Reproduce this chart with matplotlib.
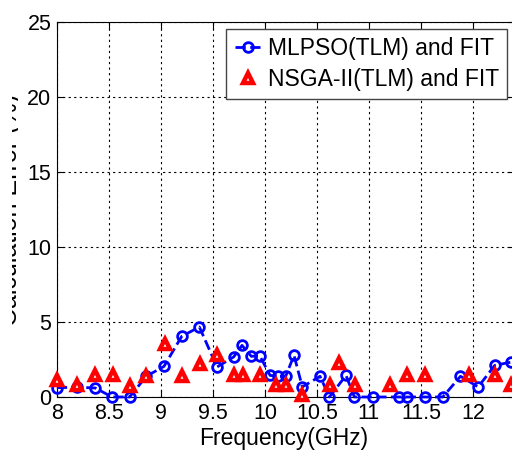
import matplotlib
matplotlib.use('Agg')
import matplotlib.pyplot as plt
from matplotlib.transforms import Bbox

plt.rcParams['font.family'] = ['Liberation Sans', 'DejaVu Sans']

# MLPSO(TLM) and FIT
f_mlpso = [8.0, 8.19, 8.37, 8.53, 8.70, 8.86, 9.03, 9.2, 9.37, 9.54, 9.70, 9.78,
           9.87, 9.95, 10.05, 10.13, 10.2, 10.28, 10.36, 10.53, 10.62, 10.78,
           10.86, 11.04, 11.29, 11.37, 11.54, 11.71, 11.88, 12.05, 12.21, 12.37]
e_mlpso = [0.62, 0.65, 0.6, 0.0, 0.0, 1.38, 2.04, 4.04, 4.67, 2.0, 2.67, 3.44,
           2.71, 2.75, 1.44, 1.38, 1.38, 2.78, 0.67, 1.38, 0.0, 1.44,
           0.0, 0.0, 0.0, 0.0, 0.0, 0.0, 1.38, 0.67, 2.11, 2.33]

# NSGA-II(TLM) and FIT
f_nsga = [8.0, 8.19, 8.37, 8.54, 8.70, 8.86, 9.04, 9.2, 9.38, 9.54, 9.70, 9.79,
          9.95, 10.11, 10.2, 10.36, 10.63, 10.71, 10.87, 11.2, 11.37, 11.54,
          11.96, 12.21, 12.37]
e_nsga = [1.1, 0.78, 1.44, 1.44, 0.71, 1.38, 3.51, 1.38, 2.18, 2.78, 1.44, 1.44,
          1.44, 0.78, 0.78, 0.1, 0.78, 2.24, 0.78, 0.78, 1.44, 1.44,
          1.44, 1.44, 0.78]

fig = plt.figure(figsize=(5.12, 4.55), dpi=100)
ax = fig.add_axes([0.111, 0.1275, 0.894, 0.824])

ax.plot(f_mlpso, e_mlpso, '--o', color='#0000ff', lw=2, ms=7, mfc='none',
        mew=2, label='MLPSO(TLM) and FIT', clip_on=False, zorder=3)
ax.plot(f_nsga, e_nsga, '^', color='#ff0000', ms=7.5, mfc='white', mec='#ff0000',
        mew=3.2, label='NSGA-II(TLM) and FIT', clip_on=False, zorder=4)

ax.set_xlim(8, 12.4)
ax.set_ylim(0, 25)
ax.set_xticks([8, 8.5, 9, 9.5, 10, 10.5, 11, 11.5, 12])
ax.set_xticklabels(['8', '8.5', '9', '9.5', '10', '10.5', '11', '11.5', '12'])
ax.set_yticks([0, 5, 10, 15, 20, 25])
ax.tick_params(direction='in', top=True, right=True, labelsize=15.5, length=5, pad=4)
ax.grid(True, color='black', linestyle=(0, (2, 3)), linewidth=0.8)

ax.set_xlabel('Frequency(GHz)', fontsize=16.5)
ax.xaxis.set_label_coords(0.496, -0.08)
ax.xaxis.label.set_va('top')

# the reference image is cropped so only a thin strip of the y label shows
ax.set_ylabel('Calculation Error (%)', fontsize=18, va='baseline')
ax.yaxis.set_label_coords(-0.087, 0.5)
ax.yaxis.label.set_clip_box(Bbox.from_extents(12, 0, 18, 455))
ax.yaxis.label.set_clip_on(True)

ax.legend(loc='upper right', bbox_to_anchor=(0.99, 0.936), bbox_transform=fig.transFigure,
          borderaxespad=0, fontsize=16.5, fancybox=False, edgecolor='#444444',
          framealpha=1, handlelength=1.2, handletextpad=0.25, borderpad=0.35,
          labelspacing=0.35)

fig.savefig('out.png', dpi=100)
